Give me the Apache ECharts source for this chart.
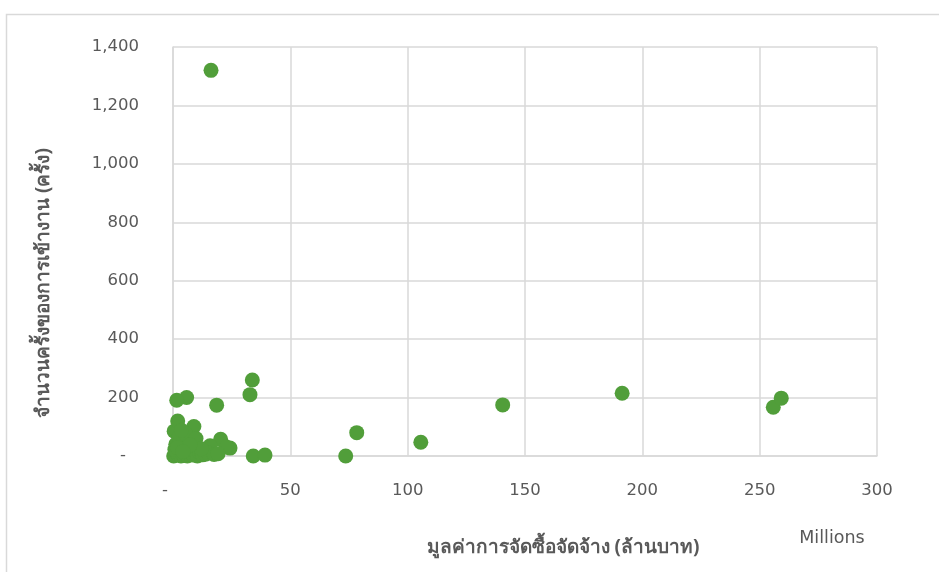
<!DOCTYPE html>
<html>
<head>
<meta charset="utf-8">
<script src="https://cdn.jsdelivr.net/npm/echarts@6/dist/echarts.min.js"></script>
<style>
  html, body { margin: 0; padding: 0; background: #ffffff; }
  #chart { width: 939px; height: 572px; }
</style>
</head>
<body>
<div id="chart"></div>
<script>
// Procurement value (million baht) vs. number of attendances per record
const procurementValue = [
  16.2, 33.8, 32.8, 18.6, 5.8, 1.6, 78.3, 105.6, 140.5, 191.4, 255.8, 259.2,
  73.6, 34.2, 39.2, 24.3,
  0.5, 2.0, 8.9, 20.3, 22.7, 15.8, 0.3, 1.0, 1.4, 2.2, 2.8, 3.4, 4.0, 4.6,
  5.3, 6.1, 7.0, 7.8, 8.6, 9.5, 10.4, 11.3, 12.5, 13.8, 15.0, 17.5, 19.2,
  1.2, 3.0, 4.8, 6.6, 2.5, 5.5, 9.8, 12.0, 0.8, 3.6, 7.2, 1.8, 4.2
];
const attendanceCount = [
  1320, 260, 210, 174, 200, 191, 80, 47, 175, 215, 167, 198,
  0, 0, 3, 27,
  85, 120, 101, 57, 31, 35, 0, 3, 12, 5, 18, 0, 8, 2,
  14, 0, 6, 22, 3, 10, 0, 12, 4, 6, 10, 5, 8,
  40, 55, 30, 45, 65, 75, 60, 25, 22, 88, 38, 28, 15
];

const xTicks = { min: 0, max: 300, step: 50 };
const yTicks = { min: 0, max: 1400, step: 200 };

const xTitle = 'มูลค่าการจัดซื้อจัดจ้าง (ล้านบาท)';
const yTitle = 'จำนวนครั้งของการเข้างาน (ครั้ง)';
const unitNote = 'Millions';

const points = procurementValue.map((v, i) => [v, attendanceCount[i]]);

const labelFont = '"DejaVu Sans", "Noto Sans", sans-serif';
const titleFont = '"Noto Sans", "DejaVu Sans", sans-serif';
const gridColor = '#d9d9d9';
const textColor = '#595959';

// Accounting-style number: zero shown as a dash
function fmt(v) {
  if (v === 0) return '{z|-}';
  return v.toLocaleString('en-US');
}

const chart = echarts.init(document.getElementById('chart'), null, { renderer: 'canvas' });

chart.setOption({
  animation: false,
  backgroundColor: '#ffffff',
  grid: { left: 173, right: 62, top: 47, bottom: 116 },
  xAxis: {
    type: 'value',
    min: xTicks.min, max: xTicks.max, interval: xTicks.step,
    axisLine: { show: true, lineStyle: { color: gridColor, width: 1.5 } },
    axisTick: { show: false },
    splitLine: { show: true, lineStyle: { color: gridColor, width: 1.5 } },
    axisLabel: {
      color: textColor, fontSize: 16.5, fontFamily: labelFont, margin: 26,
      formatter: fmt,
      rich: { z: { color: textColor, fontSize: 16.5, fontFamily: labelFont, padding: [0, 16, 0, 0] } }
    }
  },
  yAxis: {
    type: 'value',
    min: yTicks.min, max: yTicks.max, interval: yTicks.step,
    axisLine: { show: true, lineStyle: { color: gridColor, width: 1.5 } },
    axisTick: { show: false },
    splitLine: { show: true, lineStyle: { color: gridColor, width: 1.5 } },
    axisLabel: {
      color: textColor, fontSize: 16.5, fontFamily: labelFont, margin: 34,
      formatter: fmt,
      rich: { z: { color: textColor, fontSize: 16.5, fontFamily: labelFont, padding: [0, 13, 0, 0] } }
    }
  },
  series: [{
    type: 'scatter',
    data: points,
    symbol: 'circle',
    symbolSize: 15,
    itemStyle: { color: '#519e3a', opacity: 1 },
    silent: true
  }],
  graphic: [
    {
      type: 'rect',
      silent: true,
      shape: { x: 6.5, y: 14.5, width: 1000, height: 1000 },
      style: { fill: null, stroke: gridColor, lineWidth: 1.5 },
      z: -1
    },
    {
      type: 'text',
      silent: true,
      x: 563, y: 548,
      style: {
        text: xTitle, fill: textColor, fontSize: 19, fontFamily: titleFont,
        align: 'center', verticalAlign: 'middle', fontWeight: 'bold'
      }
    },
    {
      type: 'text',
      silent: true,
      x: 832, y: 538,
      style: {
        text: unitNote, fill: textColor, fontSize: 17.5, fontFamily: labelFont,
        align: 'center', verticalAlign: 'middle'
      }
    },
    {
      type: 'text',
      silent: true,
      x: 44, y: 283,
      rotation: Math.PI / 2,
      style: {
        text: yTitle, fill: textColor, fontSize: 19, fontFamily: titleFont,
        align: 'center', verticalAlign: 'middle', fontWeight: 'bold'
      }
    }
  ]
});
</script>
</body>
</html>
